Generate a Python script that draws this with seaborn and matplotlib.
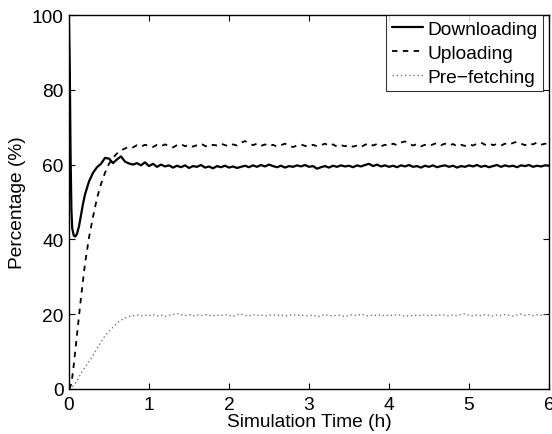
import numpy as np
import pandas as pd
import matplotlib
matplotlib.use("Agg")
import matplotlib.pyplot as plt
import seaborn as sns

# ---- data ----
early_time = [0, 0.01, 0.02, 0.03, 0.04, 0.06, 0.08, 0.1, 0.125, 0.15, 0.175]
late_time = list(np.round(np.arange(0.2, 6.0001, 0.05), 3))
time_h = early_time + late_time

downloading = [
    98, 85, 62, 48, 43, 41, 40.8, 41.5, 43.5, 46.5, 49.5,
    52, 55.5, 57.8, 59.3, 60.2, 61.8, 61.6, 60.4, 61.4, 62.2, 60.8, 60.3, 60.0, 60.4, 59.8, 60.6,
    59.6, 60.2, 59.4, 60.0, 59.5, 59.8, 59.2, 59.7, 59.3, 59.8,
    59.1, 59.6, 59.4, 59.9, 59.2, 59.5, 59.0, 59.6, 59.3, 59.7,
    59.2, 59.5, 59.1, 59.4, 59.7, 59.3, 59.8, 59.4, 59.9, 59.5,
    60.0, 59.6, 59.3, 59.7, 59.2, 59.6, 59.4, 59.8, 59.5, 59.9,
    59.4, 59.6, 58.9, 59.3, 59.6, 59.2, 59.7, 59.4, 59.8, 59.5,
    59.7, 59.3, 59.8, 59.5, 59.9, 60.2, 59.6, 60.0, 59.5, 59.8,
    59.4, 59.7, 59.3, 59.8, 59.5, 59.9, 59.4, 59.6, 59.2, 59.7,
    59.4, 59.8, 59.3, 59.6, 59.8, 59.4, 59.7, 59.2, 59.6, 59.4,
    59.8, 59.5, 59.9, 59.4, 59.7, 59.3, 59.6, 59.9, 59.4, 59.8,
    59.5, 59.7, 59.3, 59.8, 59.6, 59.9, 59.4, 59.7, 59.5, 59.8,
    59.7,
]

uploading = [
    0, 0.3, 0.8, 1.5, 3.0, 6.5, 10.5, 14.5, 19.5, 24.5, 29,
    33.5, 40.5, 46, 51, 54.8, 57.8, 60.2, 61.8, 63, 63.8, 64.3, 64.8, 64.6, 65.2, 64.8, 65.3,
    65.0, 64.7, 65.3, 64.9, 65.4, 65.0, 64.6, 65.2, 65.5, 64.9,
    65.3, 64.8, 65.2, 65.6, 65.0, 64.7, 65.3, 65.1, 65.6, 65.2,
    64.9, 65.4, 65.1, 65.8, 66.3, 65.7, 65.2, 65.6, 65.0, 65.4,
    64.9, 65.3, 64.8, 65.2, 65.6, 65.0, 64.7, 65.1, 65.4, 65.0,
    64.8, 65.3, 64.9, 65.2, 65.6, 65.0, 65.4, 64.8, 65.2, 64.9,
    65.3, 64.8, 65.1, 64.7, 65.3, 65.7, 65.1, 65.5, 64.9, 65.3,
    65.0, 65.6, 65.2, 65.9, 66.2, 65.6, 65.1, 65.5, 64.9, 65.3,
    65.0, 65.4, 65.8, 65.2, 65.6, 65.1, 65.5, 64.9, 65.3, 65.0,
    65.4, 65.1, 65.6, 65.9, 65.3, 65.7, 65.2, 65.5, 65.1, 65.6,
    65.3, 65.8, 66.1, 65.6, 65.2, 65.7, 65.4, 65.9, 65.3, 65.6,
    65.4,
]

prefetching = [
    0, 0.1, 0.2, 0.4, 0.6, 1.0, 1.6, 2.2, 3.2, 4.2, 5.0,
    5.8, 7.3, 9.0, 10.8, 12.5, 14.2, 15.4, 16.5, 17.6, 18.4, 19.0, 19.4, 19.6, 19.8, 19.5, 19.8,
    19.6, 19.9, 19.5, 19.8, 19.4, 19.7, 19.9, 20.2, 19.8, 19.6,
    19.9, 19.5, 19.8, 19.6, 19.9, 19.7, 19.5, 19.8, 19.6, 19.9,
    19.7, 19.4, 19.8, 20.1, 19.7, 19.5, 19.9, 19.6, 19.8, 19.5,
    19.7, 19.9, 19.6, 19.8, 19.5, 19.7, 19.9, 19.6, 19.8, 19.5,
    19.6, 19.8, 19.3, 19.6, 19.9, 19.7, 19.5, 19.8, 19.6, 19.4,
    19.7, 19.9, 19.6, 20.0, 19.7, 19.5, 19.8, 19.6, 19.9, 19.5,
    19.8, 19.6, 19.9, 19.7, 19.4, 19.7, 19.5, 19.8, 19.6, 19.9,
    19.5, 19.8, 19.6, 19.9, 19.7, 19.5, 19.8, 19.6, 19.9, 20.1,
    19.7, 19.5, 19.8, 19.6, 19.9, 19.7, 19.5, 19.8, 19.6, 19.9,
    19.7, 19.5, 19.8, 20.0, 19.7, 19.9, 19.6, 19.8, 19.7, 19.9,
    19.8,
]

series_names = ["Downloading", "Uploading", "Pre\u2212fetching"]
x_ticks = [0, 1, 2, 3, 4, 5, 6]
y_ticks = [0, 20, 40, 60, 80, 100]

df = pd.DataFrame({
    "t": time_h * 3,
    "v": downloading + uploading + prefetching,
    "series": [series_names[0]] * len(time_h) + [series_names[1]] * len(time_h)
              + [series_names[2]] * len(time_h),
})

# ---- style ----
sns.set_theme(style="ticks")
plt.rcParams["font.family"] = ["Liberation Sans", "DejaVu Sans"]
plt.rcParams["text.color"] = "black"
plt.rcParams["axes.labelcolor"] = "black"
FS = 13.8

fig = plt.figure(figsize=(5.52, 4.35), dpi=100)
ax = fig.add_axes([0.125, 0.1035, 0.8696, 0.8597])

palette = {series_names[0]: "black", series_names[1]: "black", series_names[2]: "#777777"}
dashes = {series_names[0]: "", series_names[1]: (3, 3), series_names[2]: (1, 2)}
sizes = {series_names[0]: 1.6, series_names[1]: 1.3, series_names[2]: 1.0}

sns.lineplot(data=df, x="t", y="v", hue="series", style="series",
             size="series", sizes=sizes, palette=palette, dashes=dashes,
             hue_order=series_names, style_order=series_names, size_order=series_names,
             ax=ax, estimator=None, sort=False)

ax.set_xlim(0, 6)
ax.set_ylim(0, 100)
ax.set_xticks(x_ticks)
ax.set_yticks(y_ticks)
ax.set_xticklabels([str(v) for v in x_ticks])
ax.set_yticklabels([str(v) for v in y_ticks])
ax.tick_params(direction="in", top=True, right=True, length=4, width=0.8,
               labelsize=FS, colors="black")
ax.tick_params(axis="x", pad=5)
ax.tick_params(axis="y", pad=4)
for s in ax.spines.values():
    s.set_visible(True)
    s.set_color("black")
    s.set_linewidth(1.0)

ax.set_xlabel("Simulation Time (h)", fontsize=FS, labelpad=0, color="black")
ax.set_ylabel("Percentage (%)", fontsize=FS, labelpad=4, color="black")

handles, labels = ax.get_legend_handles_labels()
leg = ax.legend(handles=handles[-3:], labels=series_names, loc="upper right",
                bbox_to_anchor=(0.9875, 1.0), borderaxespad=0, frameon=True,
                fancybox=False, edgecolor="black", fontsize=FS,
                handlelength=1.65, handletextpad=0.2, labelspacing=0.33,
                borderpad=0.3)
leg.get_frame().set_linewidth(0.8)
for txt in leg.get_texts():
    txt.set_color("black")

fig.savefig("out.png", dpi=100)
